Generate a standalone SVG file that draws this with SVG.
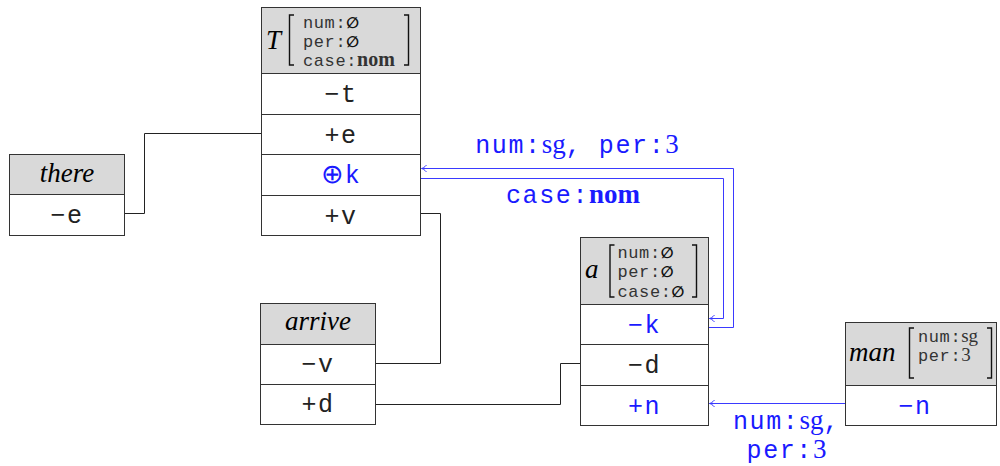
<svg xmlns="http://www.w3.org/2000/svg" width="1000" height="466" viewBox="0 0 1000 466">
  <defs>
    <style>
      .box{fill:#fff;stroke:#333;stroke-width:1}
      .head{fill:#d9d9d9;stroke:#333;stroke-width:1}
      .sep{stroke:#333;stroke-width:1}
      .row{font-family:"Liberation Mono",monospace;font-size:25px;letter-spacing:1.5px;fill:#222;text-anchor:middle}
      .blue{fill:#1a1aff}
      .name{font-family:"Liberation Serif",serif;font-style:italic;font-size:27px;fill:#000}
      .feat{font-family:"Liberation Mono",monospace;font-size:17px;letter-spacing:0.6px;fill:#333}
      .feat .rm{font-family:"Liberation Serif",serif;font-size:19px;letter-spacing:0}
      .feat .bf{font-family:"Liberation Serif",serif;font-size:20px;font-weight:bold;letter-spacing:0}
      .feat .nil{font-family:"DejaVu Sans",sans-serif;font-size:15px;font-weight:bold;fill:#111}
      .br{fill:none;stroke:#111;stroke-width:1.4}
      .wire{fill:none;stroke:#222;stroke-width:1}
      .bwire{fill:none;stroke:#3a3aff;stroke-width:1}
      .lbl{font-family:"Liberation Mono",monospace;font-size:25px;letter-spacing:1.6px;fill:#1a1aff;text-anchor:middle}
      .lbl .rm{font-family:"Liberation Serif",serif;font-size:27px;letter-spacing:0}
      .lbl .bf{font-family:"Liberation Serif",serif;font-size:27px;font-weight:bold;letter-spacing:0}
      .oplus{font-family:"DejaVu Sans ExtraLight","DejaVu Sans",sans-serif;font-size:27px;font-weight:200;letter-spacing:1px}
    </style>
    <marker id="ah" viewBox="-6 -5 7 10" refX="0" refY="0" markerWidth="7" markerHeight="10" markerUnits="userSpaceOnUse" orient="auto">
      <path d="M-5,-3.5 C-3,-1 -1,-0.3 0,0 C-1,0.3 -3,1 -5,3.5" fill="none" stroke="#3a3aff" stroke-width="1"/>
    </marker>
  </defs>

  <!-- connectors -->
  <g id="connectors">
    <path class="wire" d="M124.5 213.5 H144.5 V133.5 H261.5"/>
    <path class="wire" d="M420.5 213.5 H440.5 V363.5 H375.5"/>
    <path class="wire" d="M375.5 404.5 H560.5 V363.5 H580.5"/>
    <path class="bwire" d="M708.5 327.5 H733.5 V168.5 H421.5" marker-end="url(#ah)"/>
    <path class="bwire" d="M420.5 178.5 H723.5 V318.5 H709.5" marker-end="url(#ah)"/>
    <path class="bwire" d="M845.5 403.5 H709.5" marker-end="url(#ah)"/>
    <text class="lbl" x="577" y="153"><tspan>num:</tspan><tspan class="rm">sg</tspan><tspan>, per:</tspan><tspan class="rm">3</tspan></text>
    <text class="lbl" x="573" y="203"><tspan>case:</tspan><tspan class="bf">nom</tspan></text>
    <text class="lbl" x="786.5" y="429"><tspan>num:</tspan><tspan class="rm">sg</tspan><tspan>,</tspan></text>
    <text class="lbl" x="786.5" y="458"><tspan>per:</tspan><tspan class="rm">3</tspan></text>
  </g>

  <!-- T -->
  <g id="node-T">
    <rect class="box" x="261.5" y="7.5" width="159" height="228"/>
    <rect class="head" x="261.5" y="7.5" width="159" height="66"/>
    <line class="sep" x1="261.5" y1="114.5" x2="420.5" y2="114.5"/>
    <line class="sep" x1="261.5" y1="154.5" x2="420.5" y2="154.5"/>
    <line class="sep" x1="261.5" y1="195.5" x2="420.5" y2="195.5"/>
    <text class="name" x="266" y="49" font-size="29">T</text>
    <path class="br" d="M294 15 H289.5 V65 H294 M404 15 H408.5 V65 H404"/>
    <text class="feat" x="303" y="27.5">num:<tspan class="nil">∅</tspan></text>
    <text class="feat" x="303" y="46.5">per:<tspan class="nil">∅</tspan></text>
    <text class="feat" x="303" y="65.5">case:<tspan class="bf">nom</tspan></text>
    <text class="row" x="341" y="102">−t</text>
    <text class="row" x="341" y="142.5">+e</text>
    <text class="row blue" x="341" y="183"><tspan class="oplus">⊕</tspan>k</text>
    <text class="row" x="341" y="223.5">+v</text>
  </g>

  <!-- there -->
  <g id="node-there">
    <rect class="box" x="9.5" y="154.5" width="115" height="81"/>
    <rect class="head" x="9.5" y="154.5" width="115" height="40"/>
    <text class="name" x="67" y="182" text-anchor="middle">there</text>
    <text class="row" x="67" y="222.5">−e</text>
  </g>

  <!-- arrive -->
  <g id="node-arrive">
    <rect class="box" x="260.5" y="303.5" width="115" height="121"/>
    <rect class="head" x="260.5" y="303.5" width="115" height="41"/>
    <line class="sep" x1="260.5" y1="384.5" x2="375.5" y2="384.5"/>
    <text class="name" x="318" y="330" text-anchor="middle">arrive</text>
    <text class="row" x="318" y="372">−v</text>
    <text class="row" x="318" y="412">+d</text>
  </g>

  <!-- a -->
  <g id="node-a">
    <rect class="box" x="580.5" y="237.5" width="128" height="188"/>
    <rect class="head" x="580.5" y="237.5" width="128" height="67"/>
    <line class="sep" x1="580.5" y1="344.5" x2="708.5" y2="344.5"/>
    <line class="sep" x1="580.5" y1="385.5" x2="708.5" y2="385.5"/>
    <text class="name" x="585" y="278" font-size="29">a</text>
    <path class="br" d="M614.5 245 H610 V297 H614.5 M692 245 H696.5 V297 H692"/>
    <text class="feat" x="617.5" y="258">num:<tspan class="nil">∅</tspan></text>
    <text class="feat" x="617.5" y="277">per:<tspan class="nil">∅</tspan></text>
    <text class="feat" x="617.5" y="296.5">case:<tspan class="nil">∅</tspan></text>
    <text class="row blue" x="644.5" y="332.5">−k</text>
    <text class="row" x="644.5" y="373">−d</text>
    <text class="row blue" x="644.5" y="413.5">+n</text>
  </g>

  <!-- man -->
  <g id="node-man">
    <rect class="box" x="845.5" y="322.5" width="151" height="103"/>
    <rect class="head" x="845.5" y="322.5" width="151" height="63"/>
    <text class="name" x="849" y="361">man</text>
    <path class="br" d="M914 328 H909.5 V378 H914 M987 328 H991.5 V378 H987"/>
    <text class="feat" x="918" y="341.5">num:<tspan class="rm">sg</tspan></text>
    <text class="feat" x="918" y="361">per:<tspan class="rm">3</tspan></text>
    <text class="row blue" x="915" y="413.5">−n</text>
  </g>
</svg>
